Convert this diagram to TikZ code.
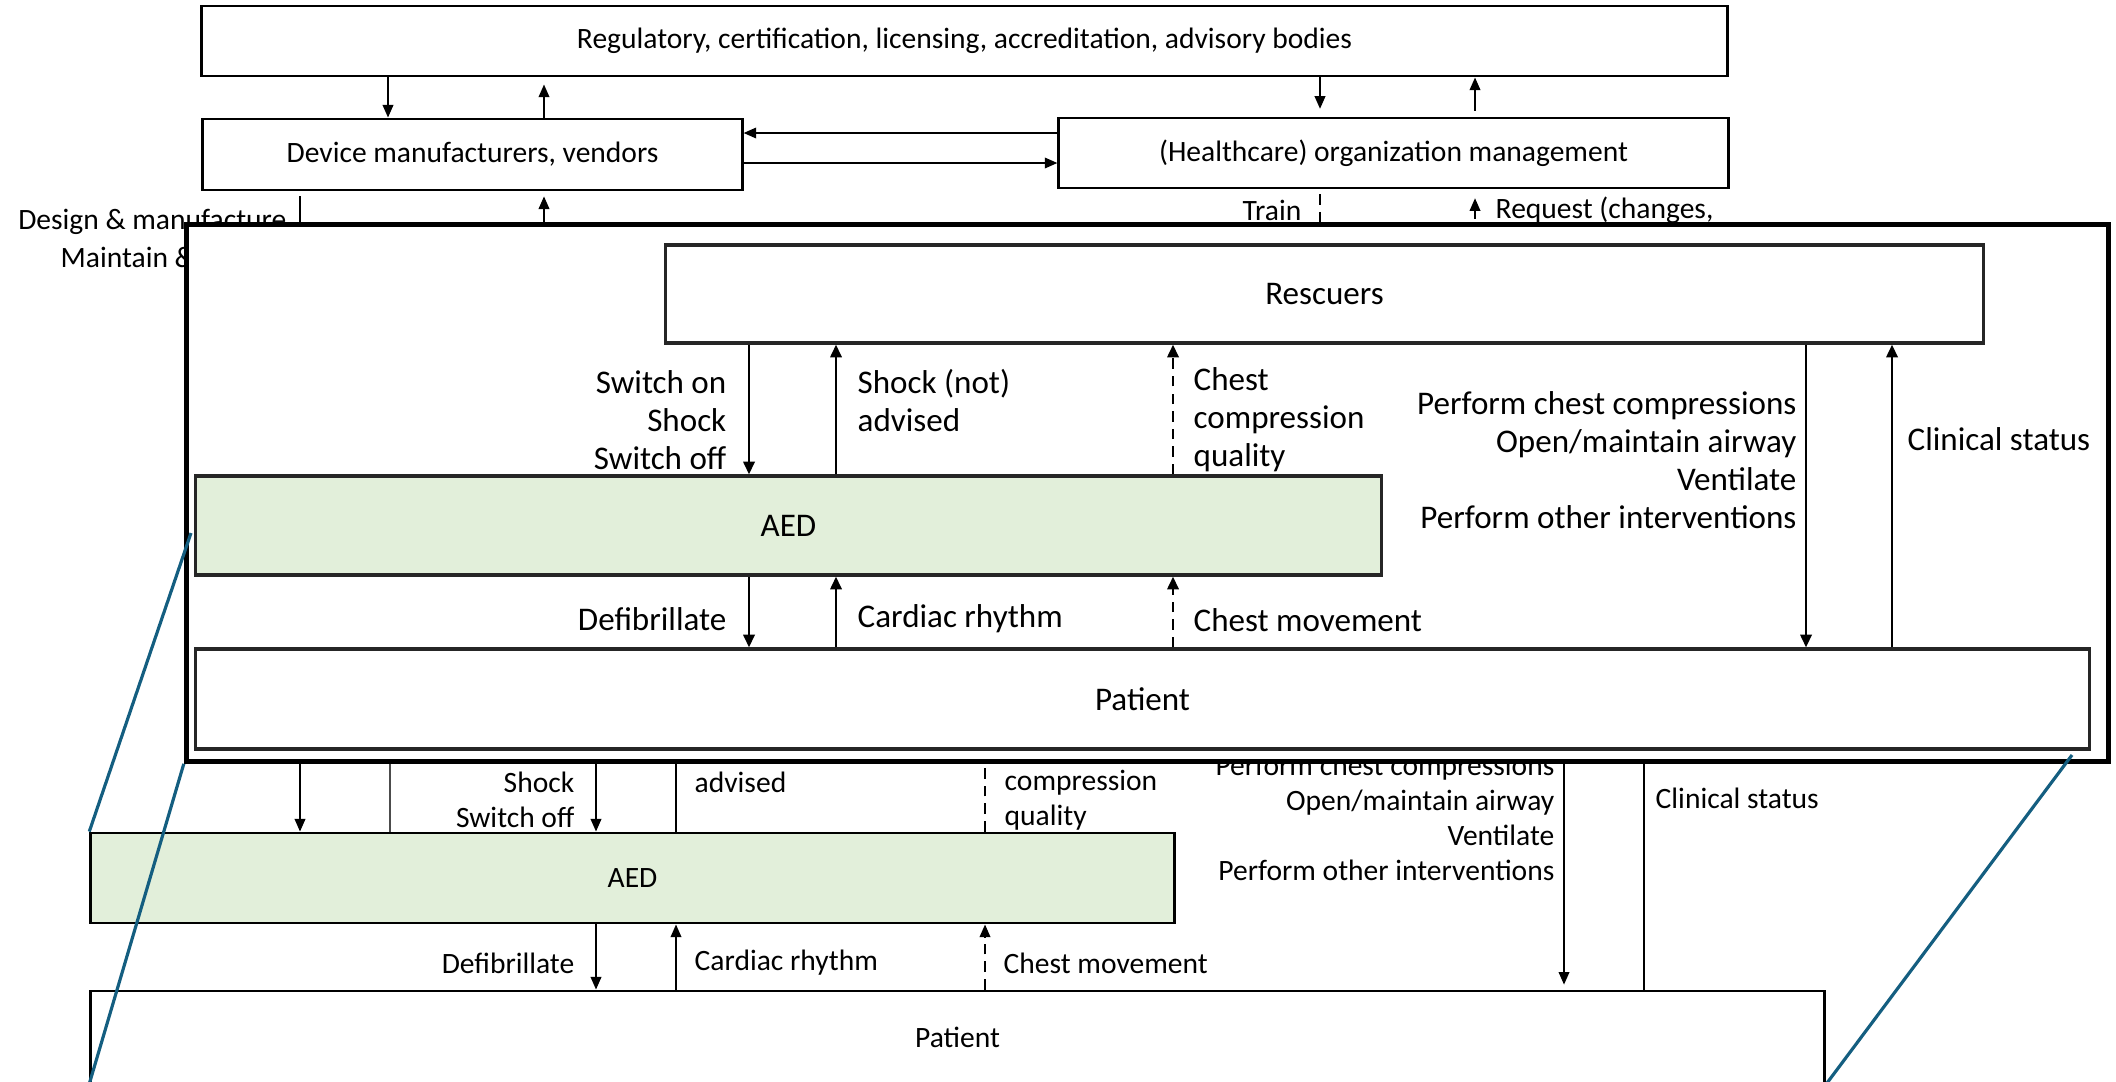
\documentclass[tikz,border=0pt]{standalone}
\usepackage{fontspec}
\setmainfont{Carlito}
\usetikzlibrary{arrows.meta}
\definecolor{aedgreen}{RGB}{226,239,218}
\definecolor{zoomteal}{RGB}{20,94,128}

\begin{document}
\begin{tikzpicture}[x=0.01cm, y=-0.01cm,
  bgbox/.style = {draw, line width=0.8pt, inner sep=0pt, font=\fontsize{8.4}{10}\selectfont},
  inbox/.style = {draw=black!85, line width=0.9pt, inner sep=0pt, font=\fontsize{9.4}{10.8}\selectfont},
  bglab/.style = {inner sep=0pt, font=\fontsize{8.4}{10}\selectfont},
  inlab/.style = {inner sep=0pt, font=\fontsize{9.4}{10.8}\selectfont},
  bgline/.style = {line width=0.55pt},
  bgarr/.style = {bgline, -{Triangle[length=3.6pt, width=3pt]}},
  inline/.style = {line width=0.7pt},
  inarr/.style = {inline, -{Triangle[length=3.6pt, width=3.2pt]}},
  dashes/.style = {dash pattern=on 3pt off 2pt},
  zoomline/.style = {draw=zoomteal, line width=0.9pt}]

\useasboundingbox (0,0) rectangle (2116,1081);

\node[bgbox, minimum width=15.25cm, minimum height=0.70cm] (reg) at (964.5,41) {Regulatory, certification, licensing, accreditation, advisory bodies};
\node[bgbox, minimum width=5.39cm, minimum height=0.71cm] (dev) at (472.5,154.5) {Device manufacturers, vendors};
\node[bgbox, minimum width=6.69cm, minimum height=0.70cm] (org) at (1393.5,153) {(Healthcare) organization management};
\node[bgbox, fill=aedgreen, minimum width=10.83cm, minimum height=0.90cm] (aedbg) at (632.5,878) {AED};
\node[bgbox, minimum width=17.33cm, minimum height=0.92cm] (patbg) at (957.5,1037) {Patient};

\foreach \n/\x in {r1/388, r2/544, o1/1320, o2/1475, dm/300, dt/390, ba/596, bb/676, bc/985, bd/1564, be/1644}
  \coordinate (\n) at (\x,0);
\coordinate (hid) at (0,500);
\coordinate (row1) at (0,133);
\coordinate (row2) at (0,163);

\draw[bgarr] (r1 |- reg.south) -- (r1 |- dev.north);
\draw[bgarr, shorten >=2pt] (r2 |- dev.north) -- (r2 |- reg.south);
\draw[bgarr] (org.west |- row1) -- (dev.east |- row1);
\draw[bgarr] (dev.east |- row2) -- (org.west |- row2);
\draw[bgarr, shorten >=2.2pt] (o1 |- reg.south) -- (o1 |- org.north);
\draw[bgarr, shorten <=1.7pt] (o2 |- org.north) -- (o2 |- reg.south);

\draw[bgarr, shorten <=1.4pt] (dm |- dev.south) -- (dm |- aedbg.north);
\draw[bgarr, shorten >=1.4pt] (r2 |- hid) -- (r2 |- dev.south);
\draw[bgline, dashes, shorten <=1.4pt] (o1 |- org.south) -- (o1 |- hid);
\draw[bgarr, dashes, shorten >=2.5pt] (o2 |- hid) -- (o2 |- org.south);
\draw[line width=0.4pt, black!70] (dt |- hid) -- (dt |- aedbg.north);
\draw[bgarr] (ba |- hid) -- (ba |- aedbg.north);
\draw[bgline] (bb |- aedbg.north) -- (bb |- hid);
\draw[bgline, dashes] (bc |- aedbg.north) -- (bc |- hid);
\draw[bgarr, shorten >=1.4pt] (bd |- hid) -- (bd |- patbg.north);
\draw[bgline] (be |- patbg.north) -- (be |- hid);
\draw[bgarr] (ba |- aedbg.south) -- (ba |- patbg.north);
\draw[bgarr] (bb |- patbg.north) -- (bb |- aedbg.south);
\draw[bgarr, dashes] (bc |- patbg.north) -- (bc |- aedbg.south);

\node[bglab, anchor=east] (ldesign) at (287,222) {Design \& manufacture};
\node[bglab, anchor=west] (lmaint) at (60,257) {Maintain \&};
\node[bglab, anchor=east] (ltrain) at (1302,210) {Train};
\node[bglab, anchor=west] (lrequest) at (1495,210) {Request (changes,};
\node[bglab, anchor=east, align=right] (lshockbg) at (575,800) {Shock\\Switch off};
\node[bglab, anchor=west] (ladvisedbg) at (694,782) {advised};
\node[bglab, anchor=west, align=left] (lqualitybg) at (1004,800) {compression\\quality};
\node[bglab, anchor=east, align=right] (lcprbg) at (1555,818) {Perform chest compressions\\Open/maintain airway\\Ventilate\\Perform other interventions};
\node[bglab, anchor=west] (lclinbg) at (1655,798) {Clinical status};
\node[bglab, anchor=east] (ldefibbg) at (575,963) {Defibrillate};
\node[bglab, anchor=west] (lrhythmbg) at (694,963) {Cardiac rhythm};
\node[bglab, anchor=west] (lmovebg) at (1003,963) {Chest movement};

\node[draw, line width=1.5pt, fill=white, inner sep=0pt, minimum width=19.21cm, minimum height=5.36cm] (inset) at (1147.5,493) {};
\node[inbox, minimum width=13.17cm, minimum height=0.98cm] (resc) at (1324.5,294) {Rescuers};
\node[inbox, fill=aedgreen, minimum width=11.85cm, minimum height=0.99cm] (aed) at (788.5,525.5) {AED};
\node[inbox, minimum width=18.93cm, minimum height=1.00cm] (pat) at (1142.5,699) {Patient};

\foreach \n/\x in {ia/749, ib/836, ic/1173, id/1806, ie/1892}
  \coordinate (\n) at (\x,0);

\draw[inarr] (ia |- resc.south) -- (ia |- aed.north);
\draw[inarr] (ib |- aed.north) -- (ib |- resc.south);
\draw[inarr, dashes] (ic |- aed.north) -- (ic |- resc.south);
\draw[inarr] (ia |- aed.south) -- (ia |- pat.north);
\draw[inarr] (ib |- pat.north) -- (ib |- aed.south);
\draw[inarr, dashes] (ic |- pat.north) -- (ic |- aed.south);
\draw[inarr] (id |- resc.south) -- (id |- pat.north);
\draw[inarr] (ie |- pat.north) -- (ie |- resc.south);

\node[inlab, anchor=east, align=right] (lswitch) at (727,420) {Switch on\\Shock\\Switch off};
\node[inlab, anchor=west, align=left] (ladvised) at (857,401) {Shock (not)\\advised};
\node[inlab, anchor=west, align=left] (lquality) at (1193,420) {Chest\\compression\\quality};
\node[inlab, anchor=east, align=right] (lcpr) at (1797,460) {Perform chest compressions\\Open/maintain airway\\Ventilate\\Perform other interventions};
\node[inlab, anchor=west] (lclin) at (1907,439) {Clinical status};
\node[inlab, anchor=east] (ldefib) at (727,619) {Defibrillate};
\node[inlab, anchor=west] (lrhythm) at (857,619) {Cardiac rhythm};
\node[inlab, anchor=west] (lmove) at (1193,620) {Chest movement};

\coordinate (zoomA) at (191,533);
\coordinate (zoomC) at (2072,755);
\draw[zoomline] (aedbg.north west) -- (zoomA);
\draw[zoomline] (patbg.south west) -- (inset.south west);
\draw[zoomline] (patbg.south east) -- (zoomC);

\end{tikzpicture}
\end{document}
